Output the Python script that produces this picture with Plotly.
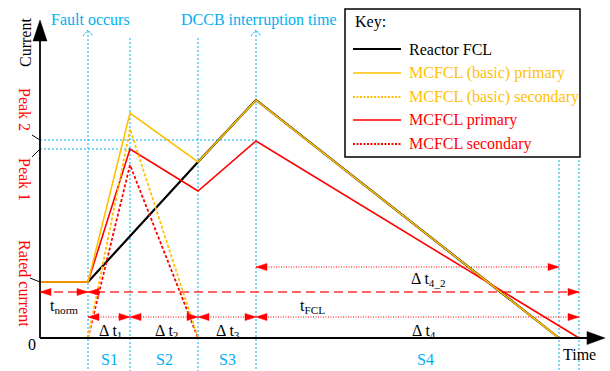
import plotly.graph_objects as go

# ---- event times (arbitrary time units, origin at 0) ----
t_fault = 48          # fault occurs
t_s1 = 90             # end of stage S1
t_s2 = 158            # end of stage S2
t_dccb = 216          # DCCB interruption time
t_end_basic = 519     # current cleared, reactor / MCFCL (basic)
t_end_mcfcl = 539     # current cleared, MCFCL
t_axis_end = 565
i_axis_end = 318

# ---- current waveforms (arbitrary current units) ----
reactor_t = [0, t_fault, t_s2, t_dccb, t_end_basic]
reactor_i = [56, 56, 176, 238, 0]

basic_pri_t = [0, t_fault, t_s1, t_s2, t_dccb, t_end_basic]
basic_pri_i = [56, 56, 225, 176, 238, 0]

basic_sec_t = [t_fault, t_s1, t_s2]
basic_sec_i = [0, 209, 0]

mcfcl_pri_t = [0, t_fault, t_s1, t_s2, t_dccb, t_end_mcfcl]
mcfcl_pri_i = [56, 56, 189, 147, 197, 0]

mcfcl_sec_t = [t_fault, t_s1, t_s2]
mcfcl_sec_i = [0, 173, 0]

rated_current = mcfcl_pri_i[0]
peak1 = mcfcl_pri_i[2]
peak2 = mcfcl_pri_i[4]

stage_names = ["S1", "S2", "S3", "S4"]
stage_bounds = [t_fault, t_s1, t_s2, t_dccb, t_end_mcfcl]

legend_names = ["Reactor FCL", "MCFCL (basic) primary", "MCFCL (basic) secondary",
                "MCFCL primary", "MCFCL secondary"]

# ---- styles ----
FONT = "'Liberation Serif', 'Times New Roman', Times, serif"
FS = 16
CYAN = "#00B0F0"
YEL = "#FFC000"
RED = "#FF0000"
BLK = "#000000"

styles = {
    "Reactor FCL": dict(color=BLK, width=2.2, dash="solid"),
    "MCFCL (basic) primary": dict(color=YEL, width=1.6, dash="solid"),
    "MCFCL (basic) secondary": dict(color=YEL, width=1.8, dash="3px,2px"),
    "MCFCL primary": dict(color=RED, width=1.6, dash="solid"),
    "MCFCL secondary": dict(color=RED, width=1.8, dash="3px,2px"),
}
text_colors = {
    "Reactor FCL": BLK,
    "MCFCL (basic) primary": YEL,
    "MCFCL (basic) secondary": YEL,
    "MCFCL primary": RED,
    "MCFCL secondary": RED,
}

fig = go.Figure()

series = [
    ("Reactor FCL", reactor_t, reactor_i),
    ("MCFCL primary", mcfcl_pri_t, mcfcl_pri_i),
    ("MCFCL secondary", mcfcl_sec_t, mcfcl_sec_i),
    ("MCFCL (basic) secondary", basic_sec_t, basic_sec_i),
    ("MCFCL (basic) primary", basic_pri_t, basic_pri_i),
]
for name, tt, ii in series:
    fig.add_trace(go.Scatter(x=tt, y=ii, mode="lines", name=name,
                             line=styles[name], hoverinfo="skip",
                             showlegend=False))

shapes = []
annotations = []


def line(x0, y0, x1, y1, color, width=1.0, dash="solid"):
    shapes.append(dict(type="line", xref="x", yref="y", x0=x0, y0=y0, x1=x1, y1=y1,
                       line=dict(color=color, width=width, dash=dash), layer="below"))


def head(x, y, direction, color=RED, length=11, half=3.6):
    # filled triangular arrow head with its tip at (x, y)
    if direction == "left":
        p = f"M{x},{y} L{x + length},{y + half} L{x + length},{y - half} Z"
    elif direction == "right":
        p = f"M{x},{y} L{x - length},{y + half} L{x - length},{y - half} Z"
    elif direction == "up":
        p = f"M{x},{y} L{x - half},{y - length} L{x + half},{y - length} Z"
    shapes.append(dict(type="path", xref="x", yref="y", path=p,
                       fillcolor=color, line=dict(color=color, width=0.5), layer="above"))


def text(x, y, s, color=BLK, size=FS, angle=0, xanchor="center", yanchor="middle"):
    annotations.append(dict(x=x, y=y, xref="x", yref="y", text=s, showarrow=False,
                            font=dict(family=FONT, size=size, color=color),
                            textangle=angle, xanchor=xanchor, yanchor=yanchor))


# cyan time markers
y_bottom = -33
for tv in [t_fault, t_dccb]:
    line(tv, 307, tv, y_bottom, CYAN, 1, "2px,2px")
    shapes.append(dict(type="path", xref="x", yref="y",
                       path=f"M{tv - 5},{302} L{tv},{308} L{tv + 5},{302}",
                       line=dict(color=CYAN, width=1, dash="2px,1px")))
for tv in [t_s1, t_s2]:
    line(tv, 300, tv, y_bottom, CYAN, 1, "2px,2px")
for tv in [t_end_basic, t_end_mcfcl]:
    line(tv, 178, tv, y_bottom, CYAN, 1, "2px,2px")

# peak level guides
line(0, peak2 + 1, t_dccb, peak2 + 1, CYAN, 1, "2px,2px")
line(0, peak1, t_s1, peak1, CYAN, 1, "2px,2px")

# axes with arrows
shapes.append(dict(type="line", xref="x", yref="y", x0=0, y0=0, x1=t_axis_end - 14, y1=0,
                   line=dict(color=BLK, width=1.8)))
shapes.append(dict(type="line", xref="x", yref="y", x0=0, y0=0, x1=0, y1=i_axis_end - 16,
                   line=dict(color=BLK, width=1.8)))
shapes.append(dict(type="path", xref="x", yref="y",
                   path=f"M{t_axis_end},0 L{t_axis_end - 18},6.5 L{t_axis_end - 18},-6.5 Z",
                   fillcolor=BLK, line=dict(color=BLK, width=0.5)))
head(0, i_axis_end, "up", color=BLK, length=21, half=7)

# duration dimension lines
row_fcl = 46
row_dt = 21
row_dt42 = 71
line(0, row_fcl, t_end_mcfcl, row_fcl, "#FF3333", 1.5, "9px,5px")
head(0, row_fcl, "left")
head(t_fault, row_fcl, "right")
head(t_fault, row_fcl, "left")
head(t_end_mcfcl, row_fcl, "right")

line(t_fault, row_dt, t_end_mcfcl, row_dt, RED, 1.2, "1px,1.5px")
for a, b in zip(stage_bounds[:-1], stage_bounds[1:]):
    head(a, row_dt, "left")
    head(b, row_dt, "right")

line(t_dccb, row_dt42, t_end_basic, row_dt42, RED, 1.2, "1px,1.5px")
head(t_dccb, row_dt42, "left")
head(t_end_basic, row_dt42, "right")

# dimension labels
text(t_fault / 2, 32, "t<sub>norm</sub>")
text(272, 32, "t<sub>FCL</sub>")
text(388, 59, "Δ t<sub>4_2</sub>")
dt_labels = ["Δ t<sub>1</sub>", "Δ t<sub>2</sub>", "Δ t<sub>3</sub>", "Δ t<sub>4</sub>"]
dt_x = [(t_fault + t_s1) / 2 + 1, (t_s1 + t_s2) / 2 + 2, (t_s2 + t_dccb) / 2 + 1, 384]
for lx, lab in zip(dt_x, dt_labels):
    text(lx, 7, lab)

# stage labels
stage_x = [(a + b) / 2 for a, b in zip(stage_bounds[:3], stage_bounds[1:4])] + [385]
for sx, sn in zip(stage_x, stage_names):
    text(sx, -21, sn, color=CYAN)

# event labels
text(t_fault + 2, 319, "Fault occurs", color=CYAN)
text(t_dccb + 3, 318, "DCCB interruption time", color=CYAN)

# axis labels
text(-15, 295, "Current", angle=-90)
text(-8, -6, "0")
text(539, -16, "Time")

# y-axis level labels with leader lines
text(-15, 229, "Peak 2", color=RED, angle=90)
text(-15, 159, "Peak 1", color=RED, angle=90)
text(-15, 55, "Rated current", color=RED, angle=90)
line(-8, peak2 + 6, 0, peak2 + 1, BLK, 1)
line(-8, peak1 - 8, 0, peak1, BLK, 1)
line(-10, rated_current + 4, 0, rated_current, BLK, 1)

# key box
shapes.append(dict(type="rect", xref="x", yref="y", x0=305, y0=181, x1=540, y1=329,
                   line=dict(color=BLK, width=1.5), fillcolor="white", layer="above"))
text(313, 316, "Key:", xanchor="left")
row_y = [289, 265, 241, 218, 194]
for ry, nm in zip(row_y, legend_names):
    st = styles[nm]
    shapes.append(dict(type="line", xref="x", yref="y", x0=313, y0=ry, x1=361, y1=ry,
                       line=dict(color=st["color"], width=min(st["width"], 1.8),
                                 dash="2px,1.5px" if st["dash"] != "solid" else "solid"),
                       layer="above"))
    text(367, ry, nm, color=text_colors[nm], xanchor="left")

fig.update_layout(
    width=610, height=371,
    margin=dict(l=0, r=0, t=0, b=0),
    paper_bgcolor="white", plot_bgcolor="white",
    font=dict(family=FONT, size=FS),
    xaxis=dict(range=[-40, 570], visible=False, fixedrange=True),
    yaxis=dict(range=[-33, 338], visible=False, fixedrange=True),
    shapes=shapes, annotations=annotations,
    showlegend=False,
)

fig.write_html("out.html")
